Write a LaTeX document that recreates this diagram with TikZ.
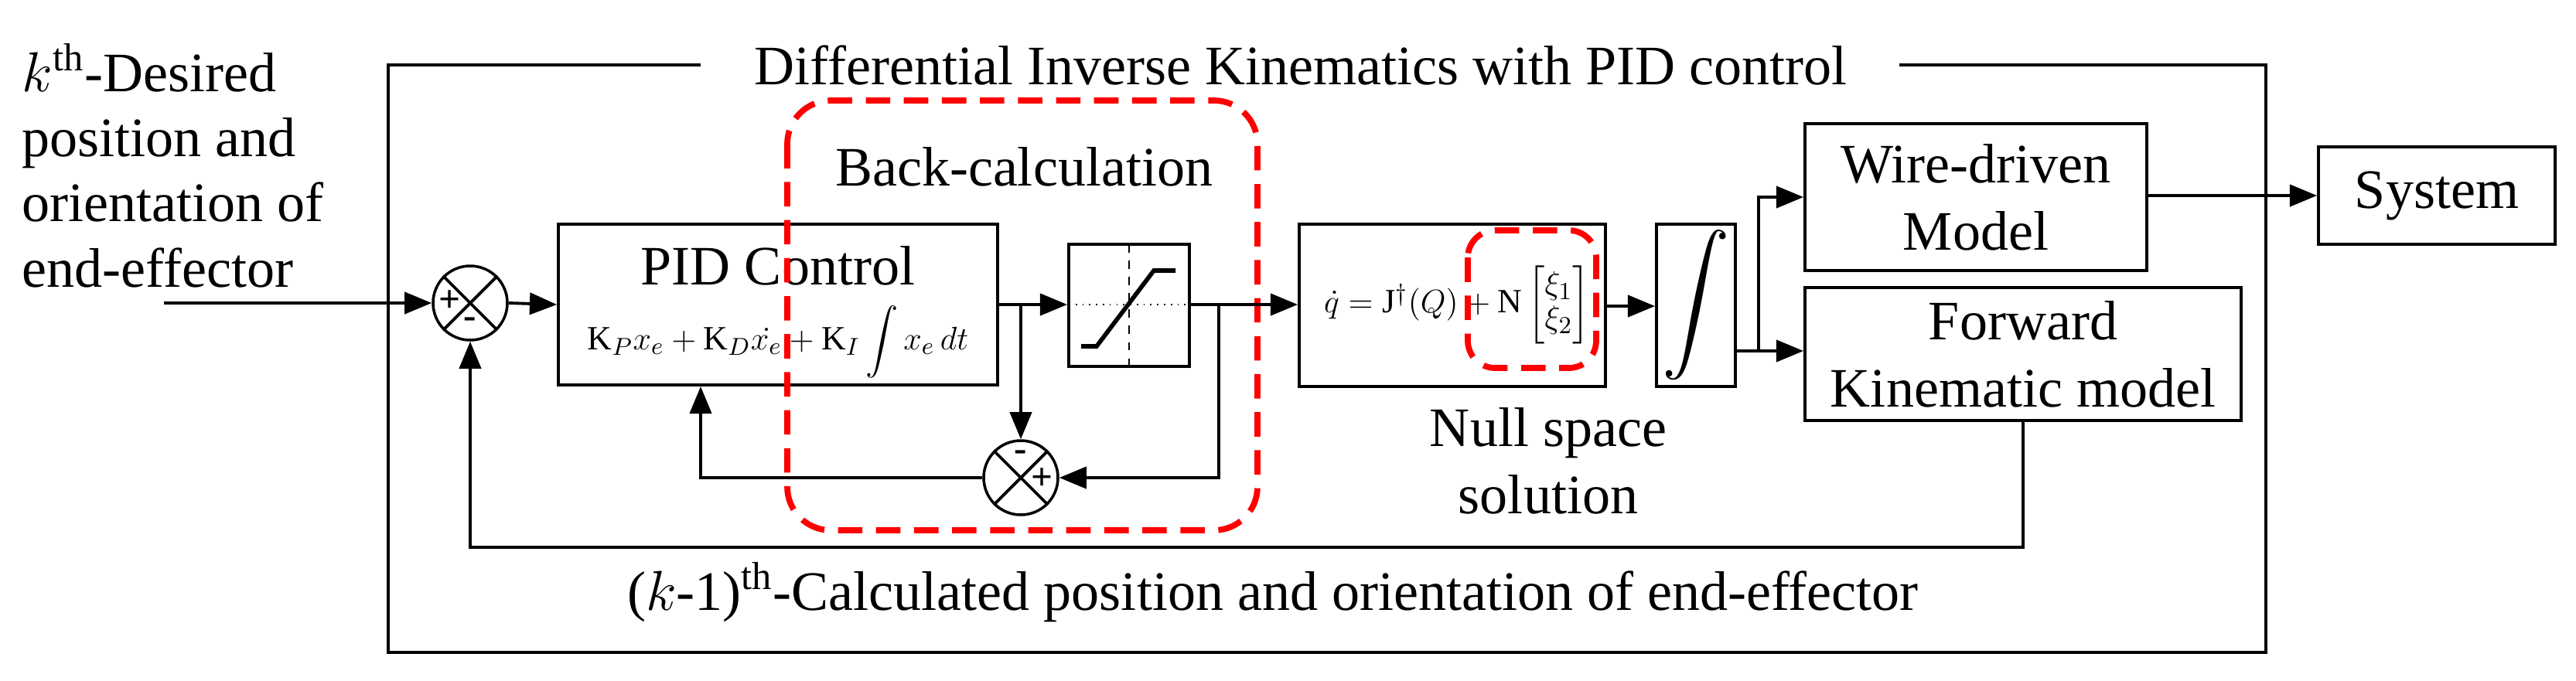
\documentclass[tikz,border=0pt]{standalone}
\usepackage{fontspec}
\usepackage{amsmath}
\setmainfont{Liberation Serif}
\usetikzlibrary{arrows.meta}
\begin{document}
\begin{tikzpicture}[x=0.02cm,y=-0.02cm,
  blk/.style={draw,line width=1.1pt,inner sep=0pt},
  lbl/.style={font=\fontsize{20.5}{24.7}\selectfont,align=center},
  sumj/.style={draw,circle,line width=1pt,minimum size=48*0.02cm,inner sep=0pt},
  sgn/.style={font=\bfseries\fontsize{14}{14}\selectfont,inner sep=0pt},
  arr/.style={line width=1.1pt,-{Triangle[length=10pt,width=8pt]}},
  ln/.style={line width=1.1pt},
  reddash/.style={draw=red,line width=2.2pt,dash pattern=on 9pt off 5pt,rounded corners=16pt}]
\useasboundingbox (0,0) rectangle (1665.5,440);
% outer frame
\node[lbl] (title) at (841,42) {Differential Inverse Kinematics with PID control};
\coordinate (fA) at (453,42); \coordinate (fB) at (1228,42);
\draw[ln] (fA) -- (251,42) -- (251,422) -- (1465,422) -- (1465,42) -- (fB);
% left text
\node[lbl,align=left,anchor=north west,inner sep=0pt,font=\fontsize{20.5}{24}\selectfont] (intext) at (14,28) {$k^{\text{th}}$-Desired\\position and\\orientation of\\end-effector};
\coordinate (in) at (106,196);
% summing junctions
\node[sumj] (s1) at (304,196) {};
\draw[ln] (s1.45)--(s1.225) (s1.135)--(s1.315);
\node[sgn] (s1p) at (291,195) {+};
\node[sgn] (s1m) at (304,209) {-};
\node[sumj] (s2) at (660,309) {};
\draw[ln] (s2.45)--(s2.225) (s2.135)--(s2.315);
\node[sgn] (s2m) at (660,295) {-};
\node[sgn] (s2p) at (674,310) {+};
% PID
\node[blk,minimum width=284*0.02cm,minimum height=104*0.02cm] (pid) at (503,197) {};
\node[font=\fontsize{20.5}{20.5}\selectfont] (pidt) at (503,172) {PID Control};
\node[font=\fontsize{12.5}{12.5}\selectfont] (pidf) at (503,221) {$\mathrm{K}_P x_e+\mathrm{K}_D\dot{x_e}+\mathrm{K}_I\displaystyle\int x_e\,dt$};
% saturation
\node[blk,minimum width=78*0.02cm,minimum height=79*0.02cm] (sat) at (730,197.5) {};
\draw[line width=0.5pt,dashed] (730,158) -- (730,237);
\draw[line width=0.5pt,dotted] (691,197) -- (769,197);
\draw[line width=1.6pt] (699,224) -- (709,224) -- (746,175) -- (760,175);
% null space
\node[blk,minimum width=198*0.02cm,minimum height=105*0.02cm] (ns) at (939,197.5) {};
\node[font=\fontsize{12.5}{12.5}\selectfont] (nsf) at (942,197) {$\dot q=\mathrm{J}^{\dagger}(Q)+\mathrm{N}\begin{bmatrix}\xi_1\\ \xi_2\end{bmatrix}$};
\node[lbl] (nsl) at (1001,298) {Null space\\solution};
% integral
\node[blk,minimum width=51*0.02cm,minimum height=105*0.02cm] (int) at (1096.5,197.5) {};
\node[font=\fontsize{34}{34}\selectfont] (ints) at (1096.5,197.5) {$\displaystyle\int$};
% wire and forward
\node[blk,minimum width=221*0.02cm,minimum height=95*0.02cm,lbl] (wire) at (1277.5,127.5) {Wire-driven\\Model};
\node[blk,minimum width=282*0.02cm,minimum height=86*0.02cm,lbl] (fwd) at (1308,229) {Forward\\Kinematic model};
\node[blk,minimum width=153*0.02cm,minimum height=63*0.02cm,lbl] (sys) at (1575.5,126.5) {System};
% bottom label
\node[lbl] (bl) at (823,383) {($k$-1)$^{\text{th}}$-Calculated position and orientation of end-effector};
% red dashed
\draw[reddash] (509,65) rectangle (813,343);
\node[lbl] (bc) at (662,108) {Back-calculation};
\draw[reddash,rounded corners=10pt] (949,149) rectangle (1032,238);
% connectors
\draw[arr] (in) -- (s1.west);
\draw[arr] (s1.east) -- (pid.west);
\coordinate (b1) at (660,197);
\draw[arr] (pid.east |- b1) -- (sat.west |- b1);
\draw[arr] (b1) -- (s2.north);
\coordinate (b2) at (788,197);
\draw[arr] (sat.east |- b2) -- (ns.west |- b2);
\draw[arr] (b2) |- (s2.east);
\draw[arr] (s2.west) -| (pid.south -| 453,0);
\draw[arr] (ns.east |- 0,198) -- (int.west |- 0,198);
\coordinate (b3) at (1137,227);
\draw[ln] (int.east |- b3) -- (b3);
\draw[arr] (b3) |- (wire.west);
\draw[arr] (b3) -- (fwd.west |- b3);
\draw[arr] (wire.east |- sys.west) -- (sys.west);
\draw[arr] (fwd.south) -- (1308,354) -| (s1.south);
\end{tikzpicture}
\end{document}
